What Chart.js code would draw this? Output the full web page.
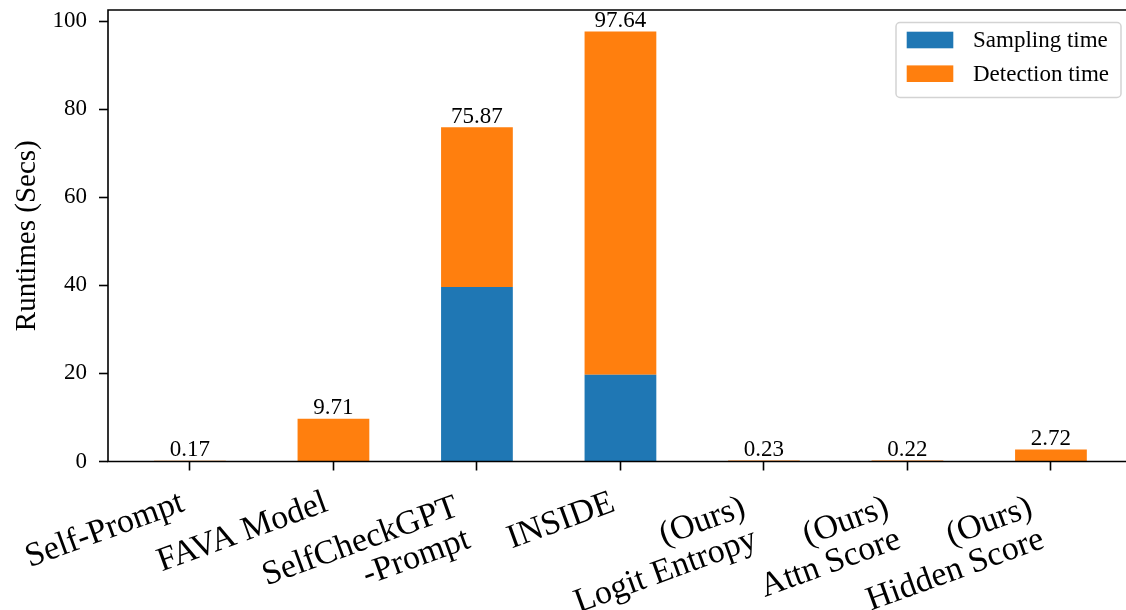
<!DOCTYPE html>
<html>
<head>
<meta charset="utf-8">
<script src="https://cdn.jsdelivr.net/npm/chart.js@4.4.1/dist/chart.umd.min.js"></script>
<style>
  html, body { margin:0; padding:0; background:#fff; overflow:hidden; }
  #wrap { width:1126px; height:610px; }
</style>
</head>
<body>
<div id="wrap"><canvas id="c" width="1126" height="610"></canvas></div>
<script>
// ---- data ----
const categories = ["Self-Prompt", "FAVA Model", "SelfCheckGPT -Prompt", "INSIDE",
                    "(Ours) Logit Entropy", "(Ours) Attn Score", "(Ours) Hidden Score"];
const xTickLabels = [["Self-Prompt"], ["FAVA Model"], ["SelfCheckGPT", "-Prompt"], ["INSIDE"],
                     ["(Ours)", "Logit Entropy"], ["(Ours)", "Attn Score"], ["(Ours)", "Hidden Score"]];
const samplingTime  = [0, 0, 39.6, 19.7, 0, 0, 0];
const detectionTime = [0.17, 9.71, 36.27, 77.94, 0.23, 0.22, 2.72];
const seriesNames = ["Sampling time", "Detection time"];
const yTicks = [0, 20, 40, 60, 80, 100];

const SERIF = "'Liberation Serif', 'Times New Roman', 'DejaVu Serif', serif";
const BLUE = '#1f77b4', ORANGE = '#ff7f0e';
// multi-line labels are right-aligned as a block (matplotlib style): pad with thin spaces
const THIN = '\u2009\u2009';

const framePlugin = {
  id: 'frame',
  afterDraw(chart) {
    const {ctx, chartArea: a} = chart;
    ctx.save();
    ctx.strokeStyle = '#000';
    ctx.lineWidth = 1.6;
    ctx.beginPath();
    ctx.moveTo(a.right + 2, a.top); ctx.lineTo(a.left, a.top);
    ctx.lineTo(a.left, a.bottom); ctx.lineTo(a.right + 2, a.bottom);
    ctx.stroke();
    ctx.restore();
  }
};

const valueLabelPlugin = {
  id: 'valueLabels',
  afterDatasetsDraw(chart) {
    const {ctx, scales} = chart;
    ctx.save();
    ctx.fillStyle = '#000';
    ctx.font = "23px " + SERIF;
    ctx.textAlign = 'center';
    ctx.textBaseline = 'alphabetic';
    categories.forEach((c, i) => {
      const total = samplingTime[i] + detectionTime[i];
      const x = scales.x.getPixelForValue(i);
      const y = scales.y.getPixelForValue(total) - 4.5;
      ctx.fillText(total.toFixed(2), x, y);
    });
    ctx.restore();
  }
};

const legendPlugin = {
  id: 'customLegend',
  afterDraw(chart) {
    const {ctx} = chart;
    const x0 = 896, y0 = 22.5, w = 225, h = 75, r = 4;
    ctx.save();
    ctx.fillStyle = 'rgba(255,255,255,0.9)';
    ctx.strokeStyle = '#d3d3d3';
    ctx.lineWidth = 1.5;
    ctx.beginPath();
    ctx.roundRect(x0, y0, w, h, r);
    ctx.fill(); ctx.stroke();
    const colors = [BLUE, ORANGE];
    const rows = [40, 73.7];
    ctx.font = "23px " + SERIF;
    ctx.textBaseline = 'middle';
    ctx.textAlign = 'left';
    seriesNames.forEach((name, k) => {
      ctx.fillStyle = colors[k];
      ctx.fillRect(906.7, rows[k] - 8.3, 46.6, 16.6);
      ctx.fillStyle = '#000';
      ctx.fillText(name, 973, rows[k] + 1);
    });
    ctx.restore();
  }
};

const tickGrid = {display: true, drawOnChartArea: false, drawTicks: true, tickLength: 9,
                  tickWidth: 1.6, tickColor: '#000', offset: false};

new Chart(document.getElementById('c'), {
  type: 'bar',
  data: {
    datasets: [
      { label: seriesNames[0], data: samplingTime.map((v, i) => ({x: i, y: v})),
        backgroundColor: BLUE, borderWidth: 0, barPercentage: 0.5, categoryPercentage: 1 },
      { label: seriesNames[1], data: detectionTime.map((v, i) => ({x: i, y: v})),
        backgroundColor: ORANGE, borderWidth: 0, barPercentage: 0.5, categoryPercentage: 1 }
    ]
  },
  options: {
    responsive: false,
    animation: false,
    devicePixelRatio: 1,
    layout: { padding: { top: 10, left: 0, right: 0, bottom: 0 } },
    plugins: { legend: { display: false }, tooltip: { enabled: false } },
    scales: {
      x: {
        type: 'linear', min: -0.571, max: 6.523, stacked: true, offset: false,
        afterBuildTicks: s => { s.ticks = categories.map((c, i) => ({ value: i })); },
        afterFit: s => { s.height = 148.5; s.paddingLeft = 0; s.paddingRight = 0; },
        border: { display: false },
        grid: tickGrid,
        ticks: {
          autoSkip: false, minRotation: 20, maxRotation: 20, padding: 15.5, labelOffset: -7,
          color: '#000',
          font: { family: SERIF, size: 34, lineHeight: 1.0 },
          callback: v => {
            const lines = xTickLabels[v];
            return lines.length > 1 ? lines.map(l => l + THIN) : lines;
          }
        }
      },
      y: {
        min: 0, max: 102.52, stacked: true,
        afterBuildTicks: s => { s.ticks = yTicks.map(v => ({ value: v })); },
        afterFit: s => { s.width = 108; s.paddingTop = 0; s.paddingBottom = 0; },
        border: { display: false },
        grid: tickGrid,
        ticks: { padding: 12, color: '#000', font: { family: SERIF, size: 23 } },
        title: { display: true, text: 'Runtimes (Secs)', color: '#000',
                 font: { family: SERIF, size: 29 }, padding: { top: 10, bottom: 0 } }
      }
    }
  },
  plugins: [framePlugin, valueLabelPlugin, legendPlugin]
});
</script>
</body>
</html>
